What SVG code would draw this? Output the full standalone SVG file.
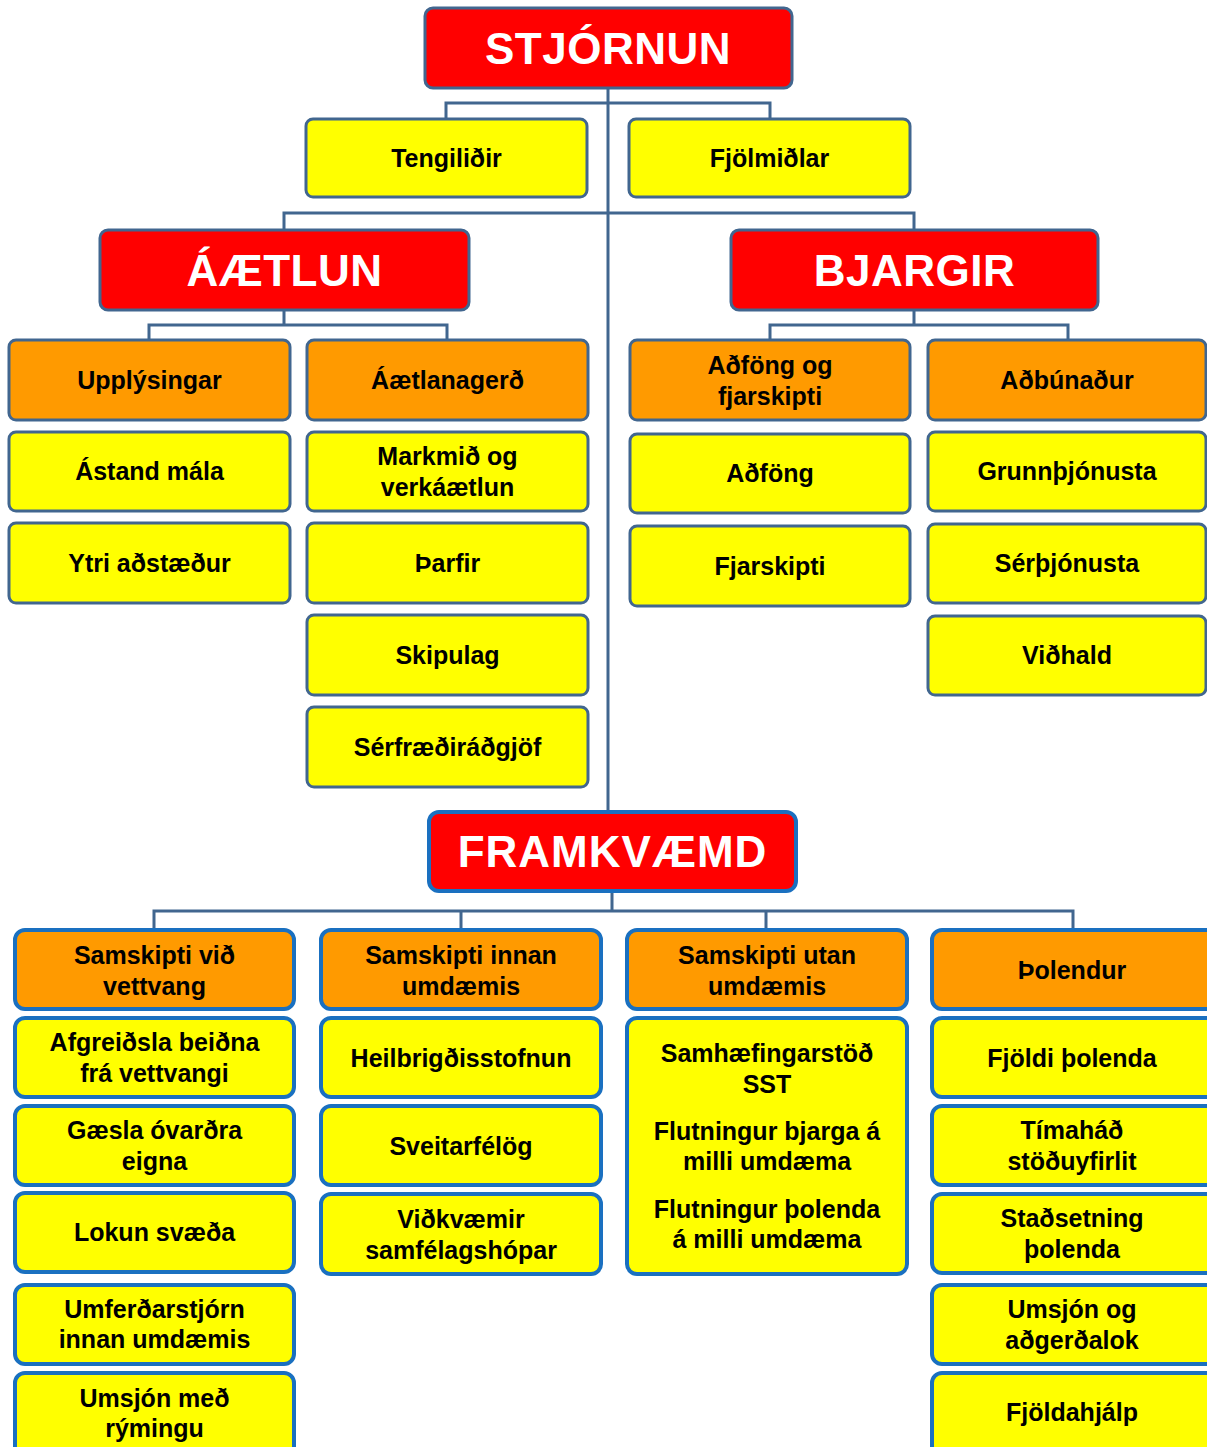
<svg xmlns="http://www.w3.org/2000/svg" width="1207" height="1447" viewBox="0 0 1207 1447">
<style>
  .box { stroke: #41668f; stroke-width: 3; }
  .bbox { stroke: #1a70c0; stroke-width: 4; }
  .red { fill: #ff0000; }
  .org { fill: #ff9a00; }
  .yel { fill: #ffff00; }
  .ttl { font-family: "Liberation Sans", Arial, sans-serif; font-weight: bold; font-size: 44px; fill: #ffffff; text-anchor: middle; letter-spacing: 0.5px; }
  .lbl { font-family: "Liberation Sans", Arial, sans-serif; font-weight: bold; font-size: 25px; fill: #000000; text-anchor: middle; }
  .conn { fill: none; stroke: #41668f; stroke-width: 3; }
</style>
<rect width="1207" height="1447" fill="#ffffff"/>

<g id="connectors">
  <path class="conn" d="M608,88 V812"/>
  <path class="conn" d="M446,119 V103 H770 V119"/>
  <path class="conn" d="M284,230 V213 H914 V230"/>
  <path class="conn" d="M149,340 V325 H447 V340 M284,310 V325"/>
  <path class="conn" d="M770,340 V325 H1068 V340 M914,310 V325"/>
  <path class="conn" d="M612,891 V911 M154,930 V911 H1073 V930 M461,911 V930 M766,911 V930"/>
</g>

<g id="stjornun"><rect class="box red" x="425" y="8" width="367" height="80" rx="8"/><text class="ttl" x="608" y="64">STJÓRNUN</text></g>
<g id="tengilidir"><rect class="box yel" x="306" y="119" width="281" height="78" rx="7"/><text class="lbl" x="446.5" y="167">Tengiliðir</text></g>
<g id="fjolmidlar"><rect class="box yel" x="629" y="119" width="281" height="78" rx="7"/><text class="lbl" x="769.5" y="167">Fjölmiðlar</text></g>

<g id="aaetlun"><rect class="box red" x="100" y="230" width="369" height="80" rx="8"/><text class="ttl" x="284.5" y="286">ÁÆTLUN</text></g>
<g id="bjargir"><rect class="box red" x="731" y="230" width="367" height="80" rx="8"/><text class="ttl" x="914.5" y="286">BJARGIR</text></g>

<g id="upplysingar"><rect class="box org" x="9" y="340" width="281" height="80" rx="7"/><text class="lbl" x="149.5" y="389">Upplýsingar</text></g>
<g id="aaetlanagerd"><rect class="box org" x="307" y="340" width="281" height="80" rx="7"/><text class="lbl" x="447.5" y="389">Áætlanagerð</text></g>
<g id="adfong-og-fjarskipti"><rect class="box org" x="630" y="340" width="280" height="80" rx="7"/><text class="lbl" x="770" y="374">Aðföng og</text><text class="lbl" x="770" y="405">fjarskipti</text></g>
<g id="adbunadur"><rect class="box org" x="928" y="340" width="278" height="80" rx="7"/><text class="lbl" x="1067" y="389">Aðbúnaður</text></g>

<g id="astand-mala"><rect class="box yel" x="9" y="432" width="281" height="79" rx="7"/><text class="lbl" x="149.5" y="480">Ástand mála</text></g>
<g id="markmid"><rect class="box yel" x="307" y="432" width="281" height="79" rx="7"/><text class="lbl" x="447.5" y="465">Markmið og</text><text class="lbl" x="447.5" y="496">verkáætlun</text></g>
<g id="ytri"><rect class="box yel" x="9" y="523" width="281" height="80" rx="7"/><text class="lbl" x="149.5" y="572">Ytri aðstæður</text></g>
<g id="tharfir"><rect class="box yel" x="307" y="523" width="281" height="80" rx="7"/><text class="lbl" x="447.5" y="572">Þarfir</text></g>
<g id="skipulag"><rect class="box yel" x="307" y="615" width="281" height="80" rx="7"/><text class="lbl" x="447.5" y="664">Skipulag</text></g>
<g id="serfraedi"><rect class="box yel" x="307" y="707" width="281" height="80" rx="7"/><text class="lbl" x="447.5" y="756">Sérfræðiráðgjöf</text></g>

<g id="adfong"><rect class="box yel" x="630" y="434" width="280" height="79" rx="7"/><text class="lbl" x="770" y="482">Aðföng</text></g>
<g id="fjarskipti"><rect class="box yel" x="630" y="526" width="280" height="80" rx="7"/><text class="lbl" x="770" y="575">Fjarskipti</text></g>
<g id="grunnthjonusta"><rect class="box yel" x="928" y="432" width="278" height="79" rx="7"/><text class="lbl" x="1067" y="480">Grunnþjónusta</text></g>
<g id="serthjonusta"><rect class="box yel" x="928" y="524" width="278" height="79" rx="7"/><text class="lbl" x="1067" y="572">Sérþjónusta</text></g>
<g id="vidhald"><rect class="box yel" x="928" y="616" width="278" height="79" rx="7"/><text class="lbl" x="1067" y="664">Viðhald</text></g>

<g id="framkvaemd"><rect class="bbox red" x="429" y="812" width="367" height="79" rx="10"/><text class="ttl" x="612.5" y="867" style="letter-spacing:1px">FRAMKVÆMD</text></g>

<g id="samskipti-vid-vettvang"><rect class="bbox org" x="15" y="930" width="279" height="79" rx="10"/><text class="lbl" x="154.5" y="964">Samskipti við</text><text class="lbl" x="154.5" y="995">vettvang</text></g>
<g id="samskipti-innan"><rect class="bbox org" x="321" y="930" width="280" height="79" rx="10"/><text class="lbl" x="461" y="964">Samskipti innan</text><text class="lbl" x="461" y="995">umdæmis</text></g>
<g id="samskipti-utan"><rect class="bbox org" x="627" y="930" width="280" height="79" rx="10"/><text class="lbl" x="767" y="964">Samskipti utan</text><text class="lbl" x="767" y="995">umdæmis</text></g>
<g id="tholendur"><rect class="bbox org" x="932" y="930" width="285" height="79" rx="10"/><text class="lbl" x="1072" y="979">Þolendur</text></g>

<g id="afgreidsla"><rect class="bbox yel" x="15" y="1018" width="279" height="79" rx="10"/><text class="lbl" x="154.5" y="1051">Afgreiðsla beiðna</text><text class="lbl" x="154.5" y="1082">frá vettvangi</text></g>
<g id="gaesla"><rect class="bbox yel" x="15" y="1106" width="279" height="79" rx="10"/><text class="lbl" x="154.5" y="1139">Gæsla óvarðra</text><text class="lbl" x="154.5" y="1170">eigna</text></g>
<g id="lokun"><rect class="bbox yel" x="15" y="1193" width="279" height="79" rx="10"/><text class="lbl" x="154.5" y="1241">Lokun svæða</text></g>
<g id="umferdarstjorn"><rect class="bbox yel" x="15" y="1285" width="279" height="79" rx="10"/><text class="lbl" x="154.5" y="1318">Umferðarstjórn</text><text class="lbl" x="154.5" y="1348">innan umdæmis</text></g>
<g id="umsjon-rymingu"><rect class="bbox yel" x="15" y="1373" width="279" height="85" rx="10"/><text class="lbl" x="154.5" y="1407">Umsjón með</text><text class="lbl" x="154.5" y="1437">rýmingu</text></g>

<g id="heilbrigdisstofnun"><rect class="bbox yel" x="321" y="1018" width="280" height="79" rx="10"/><text class="lbl" x="461" y="1067">Heilbrigðisstofnun</text></g>
<g id="sveitarfelog"><rect class="bbox yel" x="321" y="1106" width="280" height="79" rx="10"/><text class="lbl" x="461" y="1155">Sveitarfélög</text></g>
<g id="vidkvaemir"><rect class="bbox yel" x="321" y="1194" width="280" height="80" rx="10"/><text class="lbl" x="461" y="1228">Viðkvæmir</text><text class="lbl" x="461" y="1259">samfélagshópar</text></g>

<g id="samhaefing"><rect class="bbox yel" x="627" y="1018" width="280" height="256" rx="10"/>
  <text class="lbl" x="767" y="1062">Samhæfingarstöð</text><text class="lbl" x="767" y="1093">SST</text>
  <text class="lbl" x="767" y="1140">Flutningur bjarga á</text><text class="lbl" x="767" y="1170">milli umdæma</text>
  <text class="lbl" x="767" y="1218">Flutningur þolenda</text><text class="lbl" x="767" y="1248">á milli umdæma</text>
</g>

<g id="fjoldi-tholenda"><rect class="bbox yel" x="932" y="1018" width="285" height="79" rx="10"/><text class="lbl" x="1072" y="1067">Fjöldi þolenda</text></g>
<g id="timahad"><rect class="bbox yel" x="932" y="1106" width="285" height="79" rx="10"/><text class="lbl" x="1072" y="1139">Tímaháð</text><text class="lbl" x="1072" y="1170">stöðuyfirlit</text></g>
<g id="stadsetning"><rect class="bbox yel" x="932" y="1194" width="285" height="79" rx="10"/><text class="lbl" x="1072" y="1227">Staðsetning</text><text class="lbl" x="1072" y="1258">þolenda</text></g>
<g id="umsjon-adgerdalok"><rect class="bbox yel" x="932" y="1285" width="285" height="79" rx="10"/><text class="lbl" x="1072" y="1318">Umsjón og</text><text class="lbl" x="1072" y="1349">aðgerðalok</text></g>
<g id="fjoldahjalp"><rect class="bbox yel" x="932" y="1373" width="285" height="85" rx="10"/><text class="lbl" x="1072" y="1421">Fjöldahjálp</text></g>
</svg>
